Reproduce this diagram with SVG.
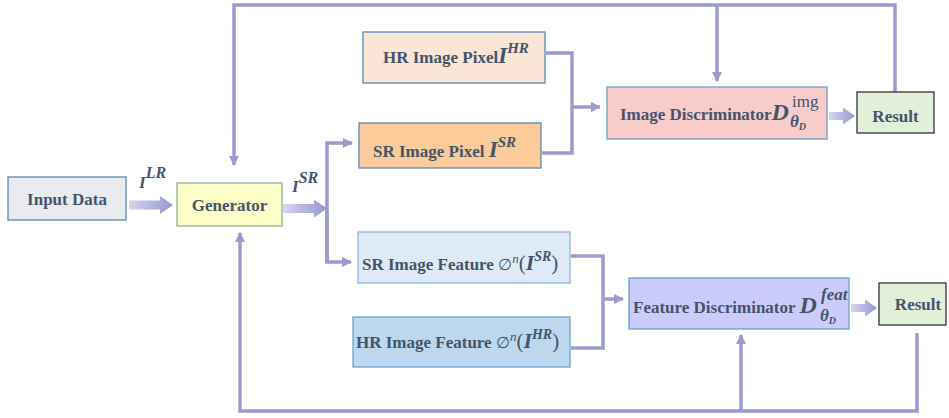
<svg xmlns="http://www.w3.org/2000/svg" width="949" height="418" viewBox="0 0 949 418">
<defs>
<linearGradient id="fat" x1="0" y1="0" x2="1" y2="0">
<stop offset="0" stop-color="#d4d4f2"/>
<stop offset="1" stop-color="#9797cf"/>
</linearGradient>
<marker id="ah" viewBox="0 0 10 10" refX="9" refY="5" markerWidth="3" markerHeight="3" orient="auto" markerUnits="strokeWidth">
<path d="M0,0 L10,5 L0,10 Z" fill="#9b9bd0"/>
</marker>
<style>
.box{stroke-width:1.3}
.t{font-family:"Liberation Serif","Times New Roman",serif;font-weight:bold;font-size:17px;fill:#44546a}
.c{stroke:#9b9bd0;stroke-width:3.5;fill:none;stroke-linejoin:miter}
.fat{fill:url(#fat)}
.it{font-style:italic}
.n{font-weight:normal}
</style>
</defs>
<rect width="949" height="418" fill="#ffffff"/>

<g id="connectors">
<path class="c" d="M895,92 V5 H234 V165" marker-end="url(#ah)"/>
<path class="c" d="M717,5 V81" marker-end="url(#ah)"/>
<path class="c" d="M917,333 V411 H240 V233" marker-end="url(#ah)"/>
<path class="c" d="M741,411 V335" marker-end="url(#ah)"/>
<path class="c" d="M327,262 V143 H352" marker-end="url(#ah)"/>
<path class="c" d="M327,210 V262 H351" marker-end="url(#ah)"/>
<path class="c" d="M546,53 H572 V153 H542"/>
<path class="c" d="M572,107 H600" marker-end="url(#ah)"/>
<path class="c" d="M571,256 H603 V348 H571"/>
<path class="c" d="M603,299 H623" marker-end="url(#ah)"/>
<path class="fat" d="M129,200.5 H160 V196 L173,205 L160,214 V209.5 H129 Z"/>
<path class="fat" d="M283,204 H314 V199.5 L327,208.5 L314,217.5 V213 H283 Z"/>
<path class="fat" d="M829,112 H843 V107.5 L855,116 L843,124.5 V120 H829 Z"/>
<path class="fat" d="M851,304 H865 V299.5 L877,308 L865,316.5 V312 H851 Z"/>
</g>

<g id="labels">
<text class="t it" x="139" y="188" font-size="24">I<tspan font-size="16" dy="-10">LR</tspan></text>
<text class="t it" x="292" y="192" font-size="23">I<tspan font-size="16" dy="-9">SR</tspan></text>
</g>

<g id="input-data">
<rect class="box" x="8" y="177" width="118" height="43" fill="#e9ebef" stroke="#5b87b5"/>
<text class="t" x="67" y="205" text-anchor="middle">Input Data</text>
</g>

<g id="generator">
<rect class="box" x="177" y="183" width="105" height="43" fill="#fdfdc8" stroke="#8fb09a"/>
<text class="t" x="229.5" y="211" text-anchor="middle">Generator</text>
</g>

<g id="hr-image-pixel">
<rect class="box" x="363" y="32" width="182" height="51" fill="#fbe5d6" stroke="#5b87b5"/>
<text class="t" x="383" y="63">HR Image Pixel<tspan class="it" font-size="23">I</tspan><tspan class="it" font-size="15" dy="-10">HR</tspan></text>
</g>

<g id="sr-image-pixel">
<rect class="box" x="359" y="123" width="182" height="45" fill="#fbcb99" stroke="#5b87b5"/>
<text class="t" x="373" y="157">SR Image Pixel <tspan class="it" font-size="23">I</tspan><tspan class="it" font-size="15" dy="-10">SR</tspan></text>
</g>

<g id="image-discriminator">
<rect class="box" x="607" y="87" width="220" height="52" fill="#f9cccc" stroke="#6e9fc8"/>
<text class="t" x="620" y="120">Image Discriminator<tspan class="it" font-size="24">D</tspan></text>
<text class="t n" x="792" y="107" font-size="16">img</text>
<text class="t it" x="790" y="127" font-size="14">θ<tspan font-size="10" dy="3">D</tspan></text>
</g>

<g id="result-1">
<rect class="box" x="857" y="92" width="77" height="41" fill="#e2efd9" stroke="#333333"/>
<text class="t" x="895.5" y="122" text-anchor="middle">Result</text>
</g>

<g id="sr-image-feature">
<rect class="box" x="358" y="232" width="212" height="51" fill="#deebf7" stroke="#8eb4d9"/>
<text class="t" x="362" y="270">SR Image Feature <tspan class="n" font-family="DejaVu Serif" font-size="16">∅</tspan><tspan class="n it" font-size="13" dy="-7">n</tspan><tspan class="n" font-size="21" dy="7">(</tspan><tspan class="it" font-size="22">I</tspan><tspan class="it" font-size="14" dy="-9">SR</tspan><tspan class="n" font-size="21" dy="9">)</tspan></text>
</g>

<g id="hr-image-feature">
<rect class="box" x="353" y="317" width="217" height="50" fill="#bdd7ee" stroke="#6fa0cc"/>
<text class="t" x="356" y="348">HR Image Feature <tspan class="n" font-family="DejaVu Serif" font-size="16">∅</tspan><tspan class="n it" font-size="13" dy="-7">n</tspan><tspan class="n" font-size="21" dy="7">(</tspan><tspan class="it" font-size="22">I</tspan><tspan class="it" font-size="14" dy="-9">HR</tspan><tspan class="n" font-size="21" dy="9">)</tspan></text>
</g>

<g id="feature-discriminator">
<rect class="box" x="629" y="278" width="220" height="51" fill="#ccccfc" stroke="#6e9fc8"/>
<text class="t" x="633" y="313">Feature Discriminator <tspan class="it" font-size="24">D</tspan></text>
<text class="t it" x="821" y="300" font-size="16">feat</text>
<text class="t it" x="820" y="321" font-size="14">θ<tspan font-size="10" dy="3">D</tspan></text>
</g>

<g id="result-2">
<rect class="box" x="879" y="283" width="67" height="42" fill="#e2efd9" stroke="#333333"/>
<text class="t" x="918" y="310" text-anchor="middle">Result</text>
</g>
</svg>
